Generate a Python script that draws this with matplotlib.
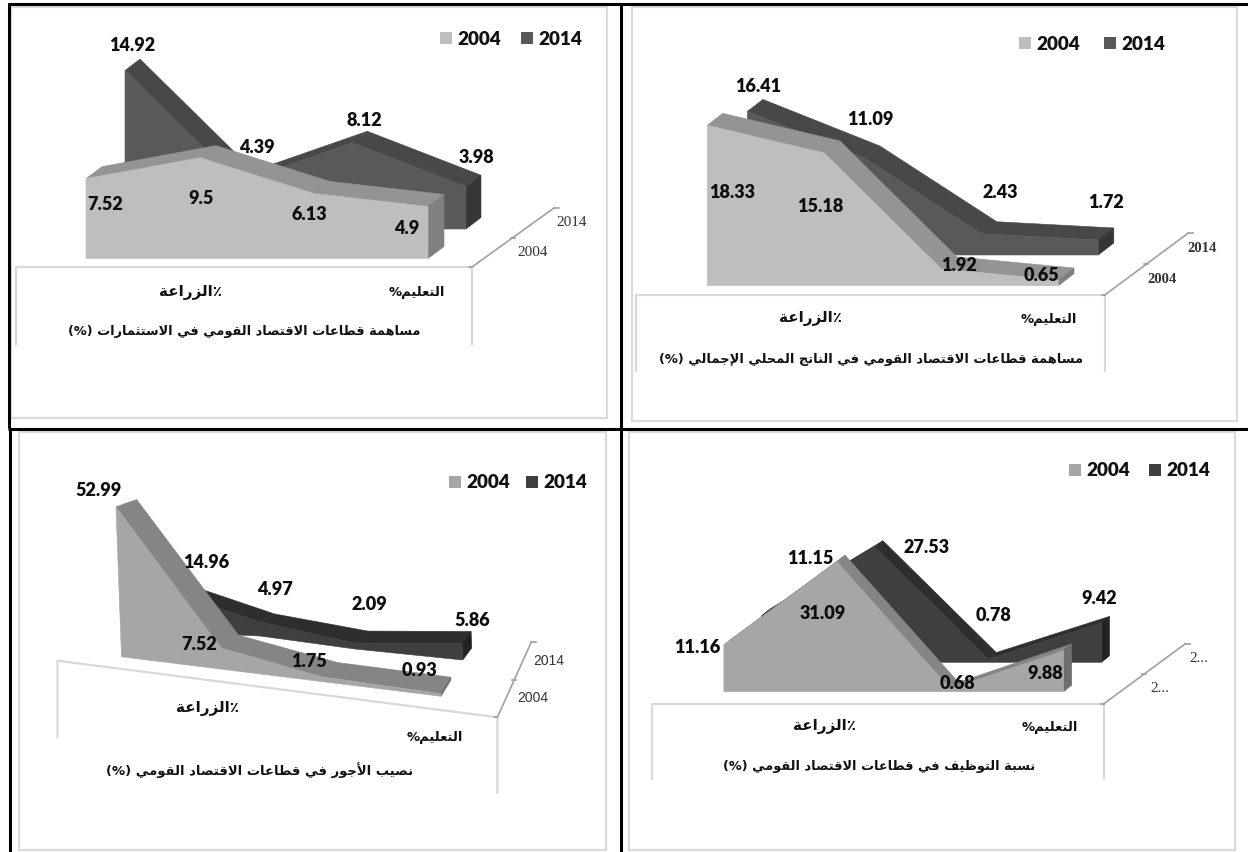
import matplotlib
matplotlib.use("Agg")
import matplotlib.pyplot as plt
from matplotlib.patches import Polygon, Rectangle

W, H = 1248, 853

# ---- data -------------------------------------------------------------
years = ["2004", "2014"]
invest_2004 = [7.52, 9.5, 6.13, 4.9]
invest_2014 = [14.92, 4.39, 8.12, 3.98]
gdp_2004 = [18.33, 15.18, 1.92, 0.65]
gdp_2014 = [16.41, 11.09, 2.43, 1.72]
wages_2004 = [52.99, 7.52, 1.75, 0.93]
wages_2014 = [14.96, 4.97, 2.09, 5.86]
jobs_2004 = [11.16, 31.09, 0.68, 9.88]
jobs_2014 = [11.15, 27.53, 0.78, 9.42]

label_agri = "٪الزراعة"
label_edu = "التعليم%"
title_invest = "مساهمة قطاعات الاقتصاد القومي في الاستثمارات (%)"
title_gdp = "مساهمة قطاعات الاقتصاد القومي في الناتج المحلي الإجمالي (%)"
title_wages = "نصيب الأجور في قطاعات الاقتصاد القومي (%)"
title_jobs = "نسبة التوظيف في قطاعات الاقتصاد القومي (%)"

# ---- Arabic shaping (matplotlib lays glyphs out left to right, unjoined) -
ISO = {"ا": 0xFE8D, "أ": 0xFE83, "إ": 0xFE87, "آ": 0xFE81, "ب": 0xFE8F, "ة": 0xFE93,
       "ت": 0xFE95, "ث": 0xFE99, "ج": 0xFE9D, "ح": 0xFEA1, "خ": 0xFEA5, "د": 0xFEA9,
       "ذ": 0xFEAB, "ر": 0xFEAD, "ز": 0xFEAF, "س": 0xFEB1, "ش": 0xFEB5, "ص": 0xFEB9,
       "ض": 0xFEBD, "ط": 0xFEC1, "ظ": 0xFEC5, "ع": 0xFEC9, "غ": 0xFECD, "ف": 0xFED1,
       "ق": 0xFED5, "ك": 0xFED9, "ل": 0xFEDD, "م": 0xFEE1, "ن": 0xFEE5, "ه": 0xFEE9,
       "و": 0xFEED, "ي": 0xFEF1, "ى": 0xFEEF}
RIGHT_ONLY = set("اأإآدذرزوةى")
LAM_ALEF = {"ا": 0xFEFB, "أ": 0xFEF7, "إ": 0xFEF9, "آ": 0xFEF5}


def shape(text):
    """Return text as joined presentation forms in visual (left-to-right) order."""
    out = []
    i = 0
    n = len(text)
    prev_joins = False
    while i < n:
        ch = text[i]
        if ch not in ISO:
            out.append({"(": ")", ")": "("}.get(ch, ch))
            prev_joins = False
            i += 1
            continue
        if ch == "ل" and i + 1 < n and text[i + 1] in LAM_ALEF:
            out.append(chr(LAM_ALEF[text[i + 1]] + (1 if prev_joins else 0)))
            prev_joins = False
            i += 2
            continue
        next_ok = i + 1 < n and text[i + 1] in ISO and ch not in RIGHT_ONLY
        base = ISO[ch]
        if prev_joins and next_ok:
            code = base + 3
        elif prev_joins:
            code = base + 1
        elif next_ok:
            code = base + 2
        else:
            code = base
        out.append(chr(code))
        prev_joins = next_ok
        i += 1
    return "".join(reversed(out))


# ---- styling ----------------------------------------------------------
LIGHT = {"2004": ("#BEBEBE", "#949494", "#808080"), "2014": ("#595959", "#484848", "#363636")}
DARK = {"2004": ("#A6A6A6", "#858585", "#6E6E6E"), "2014": ("#3F3F3F", "#2E2E2E", "#222222")}
FLOOR = "#D9D9D9"
AXIS = "#A0A0A0"


def straight(x_left, x_right, y):
    step = (x_right - x_left) / 3
    return [(x_left + i * step, y) for i in range(4)]


def tilted(xs, y0, slope):
    return [(x, y0 + (x - xs[0]) * slope) for x in xs]


panels = [
    dict(values=(invest_2004, invest_2014), colors=LIGHT, scale=10.62, lean=0.0,
         base=(straight(86, 428, 259.5), straight(125, 466, 230)),
         depth=([(16, -12)] * 4, [(15, -11.5)] * 4),
         label_xy=([(105.5, 204), (201, 198), (309, 214), (406.7, 228)],
                   [(132, 45.7), (257, 147.7), (364, 120), (476.7, 157.3)]),
         box=(11, 8, 607, 419), floor=[(16, 345), (16, 268), (472, 268), (472, 345)],
         diag=((472, 268), (554, 209)), depth_labels=("2004", "2014"),
         depth_xy=((533, 252), (572, 222)), depth_font=("Liberation Serif", "normal", 11),
         legend=(440, 33, 520.5), cats=((190, 292.7), (417, 292.7)), cat_w=(58, 52),
         title=title_invest, title_xy=(244.7, 331.7), title_w=346),
    dict(values=(gdp_2004, gdp_2014), colors=LIGHT, scale=8.75, lean=0.0,
         base=(straight(707.2, 1058.5, 286.7), straight(747.4, 1098.3, 256)),
         depth=([(15.5, -12)] * 4, [(15.5, -12)] * 4),
         label_xy=([(731.8, 192.7), (819.8, 206.7), (959, 265), (1041.8, 275)],
                   [(757.7, 86.7), (870.7, 119), (1000, 192.3), (1106.3, 202.7)]),
         box=(632, 8, 1237, 422), floor=[(636, 372), (636, 296), (1104.7, 296), (1104.7, 372)],
         diag=((1104.7, 296), (1188, 234.3)), depth_labels=("2004", "2014"),
         depth_xy=((1162.4, 279), (1202, 248)), depth_font=("Liberation Serif", "bold", 10.5),
         legend=(1019, 38, 1103.5), cats=((811, 318.3), (1049, 319.3)), cat_w=(58, 52),
         title=title_gdp, title_xy=(871.5, 359.3), title_w=412),
    dict(values=(wages_2004, wages_2014), colors=DARK, scale=2.83, lean=-0.037,
         base=(tilted([121.5, 222, 321, 441], 657.8, 0.1237),
               [(166.5, 633), (260, 637), (355, 650), (462.7, 661)]),
         depth=([(20.7, -7.3), (17.4, -12.7), (16.7, -14), (10, -16.5)],
                [(17, -7), (15, -8), (13, -12), (9, -12)]),
         label_xy=([(98.7, 491), (199.4, 644.3), (308.8, 661.7), (419.4, 671)],
                   [(206, 562), (275.4, 589.3), (369.7, 605), (472.3, 620)]),
         box=(19, 433, 606, 851), floor=[(57.5, 738), (57.5, 661.7), (497.4, 718.3), (497.4, 794)],
         diag=((497.4, 718.3), (531.2, 643.3)), depth_labels=("2004", "2014"),
         depth_xy=((532.4, 697.7), (549, 661)), depth_font=("Liberation Sans", "normal", 10),
         legend=(448.5, 477, 526), cats=((207.7, 708.3), (435, 737.7)), cat_w=(58, 52),
         title=title_wages, title_xy=(259.4, 770), title_w=300),
    dict(values=(jobs_2004, jobs_2014), colors=DARK, scale=4.18, lean=0.0,
         base=(straight(723.9, 1063.7, 692.7), straight(761.7, 1101.5, 663.3)),
         depth=([(8, -6.5)] * 4, [(8, -6.5)] * 4),
         label_xy=([(696.8, 647.3), (822.6, 613.3), (957.5, 683.3), (1045, 673.3)],
                   [(810.6, 558.3), (926.4, 547.3), (994, 615.7), (1098.7, 599)]),
         box=(629, 433, 1235, 851), floor=[(652, 780), (652, 705), (1103.5, 705), (1103.5, 780)],
         diag=((1103.5, 705), (1185, 645)), depth_labels=("2...", "2..."),
         depth_xy=((1160, 688), (1199, 658)), depth_font=("Liberation Serif", "normal", 11),
         legend=(1069, 465, 1149), cats=((825, 726.7), (1049.8, 727.7)), cat_w=(58, 52),
         title=title_jobs, title_xy=(878.7, 766.7), title_w=304),
]

# ---- figure -----------------------------------------------------------
fig = plt.figure(figsize=(W / 100, H / 100), dpi=100, facecolor="white")
ax = fig.add_axes([0, 0, 1, 1])
ax.set_xlim(0, W)
ax.set_ylim(H, 0)
ax.axis("off")
renderer = fig.canvas.get_renderer()


def fitted_text(x, y, s, width, boost, size=11):
    t = ax.text(x, y, shape(s), ha="center", va="center", family="DejaVu Sans",
                weight="bold", fontsize=size, color="#111111", zorder=30)
    t.set_fontsize(boost * size * width / t.get_window_extent(renderer).width)
    return t


def draw_series(values, base, depth, scale, lean, cols, z):
    front_col, top_col, side_col = cols
    tops = [(b[0] + lean * v * scale, b[1] - v * scale) for v, b in zip(values, base)]
    backs = [(t[0] + d[0], t[1] + d[1]) for t, d in zip(tops, depth)]
    for i in range(3):
        ax.add_patch(Polygon([tops[i], tops[i + 1], backs[i + 1], backs[i]], closed=True,
                             fc=top_col, ec=top_col, lw=0.4, zorder=z))
    end = base[-1]
    end_back = (end[0] + depth[-1][0], end[1] + depth[-1][1])
    ax.add_patch(Polygon([tops[-1], backs[-1], end_back, end], closed=True,
                         fc=side_col, ec=side_col, lw=0.4, zorder=z + 1))
    ax.add_patch(Polygon(tops + list(reversed(base)), closed=True,
                         fc=front_col, ec=front_col, lw=0.4, zorder=z + 2))


for p in panels:
    l, t, r, b = p["box"]
    ax.add_patch(Rectangle((l, t), r - l, b - t, fc="none", ec="#DADADA", lw=1.6, zorder=1))
    fx, fy = zip(*p["floor"])
    ax.plot(fx, fy, color=FLOOR, lw=1.6, zorder=2, solid_joinstyle="miter")
    (dx0, dy0), (dx1, dy1) = p["diag"]
    ax.plot([dx0, dx1], [dy0, dy1], color=AXIS, lw=1.2, zorder=2)
    mx, my = (dx0 + dx1) / 2, (dy0 + dy1) / 2
    ax.plot([mx - 2, mx + 2], [my, my], color=AXIS, lw=1.2, zorder=2)
    ax.plot([dx1, dx1 + 5], [dy1, dy1], color=AXIS, lw=1.2, zorder=2)
    ax.plot([dx0, dx0 - 3], [dy0, dy0], color=AXIS, lw=1.2, zorder=2)

    # the back series is painted first so the front one hides it
    draw_series(p["values"][1], p["base"][1], p["depth"][1], p["scale"], p["lean"],
                p["colors"][years[1]], 5)
    draw_series(p["values"][0], p["base"][0], p["depth"][0], p["scale"], p["lean"],
                p["colors"][years[0]], 10)
    for s in (0, 1):
        for v, (x, y) in zip(p["values"][s], p["label_xy"][s]):
            ax.text(x, y, f"{v:g}", ha="center", va="center", family="Lato", weight="heavy",
                    fontsize=13, color="#0D0D0D", zorder=40)

    sx, sy, sx2 = p["legend"]
    for year, x0 in zip(years, (sx, sx2)):
        ax.add_patch(Rectangle((x0, sy), 12, 12, fc=p["colors"][year][0], ec="none", zorder=20))
        ax.text(x0 + 17.5, sy + 6, year, ha="left", va="center", family="Lato", weight="heavy",
                fontsize=13.6, color="#111111", zorder=20)

    fam, wt, fs = p["depth_font"]
    for s, (x, y) in zip(p["depth_labels"], p["depth_xy"]):
        ax.text(x, y, s, ha="center", va="center", family=fam, weight=wt, fontsize=fs,
                color="#333333", zorder=20)

    fitted_text(*p["cats"][0], label_agri, p["cat_w"][0], 1.08)
    fitted_text(*p["cats"][1], label_edu, p["cat_w"][1], 1.08)
    fitted_text(*p["title_xy"], p["title"], p["title_w"], 1.02)

# heavy black cross dividing the sheet
for xs, ys in [([8, 1248], [5, 5]), ([8, 1248], [429.5, 429.5]),
               ([8.5, 8.5], [4, 429]), ([10, 10], [429, 853]), ([621, 621], [5, 853])]:
    ax.plot(xs, ys, color="black", lw=2.2, zorder=50, solid_capstyle="butt")

fig.savefig("out.png", dpi=100)
